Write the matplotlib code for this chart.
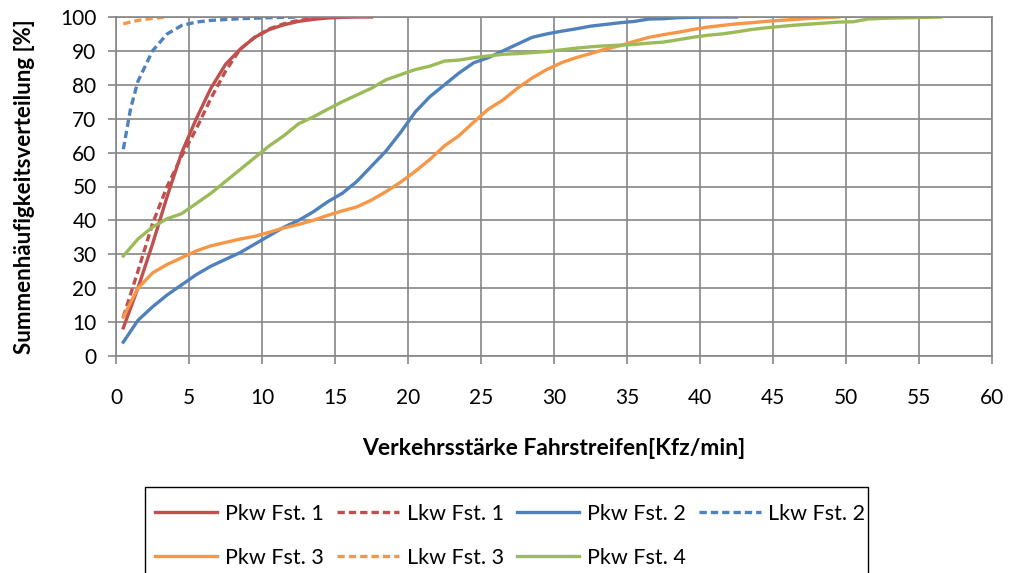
import matplotlib
matplotlib.use("Agg")
import matplotlib.pyplot as plt
from matplotlib.patches import Rectangle

plt.rcParams['font.family'] = ['Lato', 'DejaVu Sans']

# Pkw Fst. 1
x_pkw1 = [0.5, 1.5, 2.5, 3.5, 4.5, 5.5, 6.5, 7.5, 8.5, 9.5, 10.5, 11.5, 12.5, 13.5,
          14.5, 15.5, 16.5, 17.5]
y_pkw1 = [8.3, 20, 33, 47, 60, 70, 79, 86, 90.5, 94, 96.3, 97.7, 98.7, 99.3,
          99.7, 99.9, 100, 100]

# Lkw Fst. 1
x_lkw1 = [0.5, 1.5, 2.5, 3.5, 4.5, 5.5, 6.5, 7.5, 8.5, 9.5, 10.5, 11.5, 12.5, 13.5, 14.5]
y_lkw1 = [11.5, 25, 39, 50, 59, 67, 76, 84, 90.5, 94, 96.5, 98, 99, 99.5, 100]

# Pkw Fst. 2
x_pkw2 = [0.5, 1.5, 2.5, 3.5, 4.5, 5.5, 6.5, 7.5, 8.5, 9.5, 10.5, 11.5, 12.5, 13.5,
          14.5, 15.5, 16.5, 17.5, 18.5, 19.5, 20.5, 21.5, 22.5, 23.5, 24.5, 25.5,
          26.5, 27.5, 28.5, 29.5, 30.5, 31.5, 32.5, 33.5, 34.5, 35.5, 36.5, 37.5,
          38.5, 40.5, 42.5]
y_pkw2 = [4.1, 10.5, 14.5, 18, 21, 24, 26.5, 28.5, 30.5, 33, 35.5, 38, 40, 42.5,
          45.5, 48, 51.5, 56, 60.5, 66, 72, 76.5, 80, 83.5, 86.5, 88,
          90, 92, 94, 95, 95.8, 96.5, 97.3, 97.8, 98.3, 98.7, 99.4, 99.5,
          99.8, 100, 100]

# Lkw Fst. 2
x_lkw2 = [0.5, 1.0, 1.5, 2.5, 3.5, 4.5, 5.5, 6.5, 8.5, 10.5, 12.5]
y_lkw2 = [61, 73, 81, 90, 95, 97.5, 98.5, 99, 99.5, 99.8, 100]

# Pkw Fst. 3
x_pkw3 = [0.5, 1.5, 2.5, 3.5, 4.5, 5.5, 6.5, 7.5, 8.5, 9.5, 10.5, 11.5, 12.5, 13.5,
          14.5, 15.5, 16.5, 17.5, 18.5, 19.5, 20.5, 21.5, 22.5, 23.5, 24.5, 25.5,
          26.5, 27.5, 28.5, 29.5, 30.5, 31.5, 32.5, 33.5, 34.5, 35.5, 36.5, 37.5,
          38.5, 39.5, 40.5, 41.5, 42.5, 43.5, 44.5, 45.5, 46.5, 47.5, 48.5, 49.5]
y_pkw3 = [11.5, 20, 24.5, 27, 29, 31, 32.5, 33.5, 34.5, 35.3, 36.5, 37.8, 38.8, 40,
          41.5, 42.8, 44, 46, 48.5, 51.3, 54.5, 58, 62, 65, 69, 72.8,
          75.5, 79, 82, 84.5, 86.5, 88, 89.2, 90.5, 91.5, 92.8, 94, 94.8,
          95.5, 96.3, 97, 97.5, 98, 98.3, 98.7, 99, 99.3, 99.6, 99.8, 100]

# Lkw Fst. 3
x_lkw3 = [0.5, 1.5, 2.5, 3.5]
y_lkw3 = [98, 99, 99.6, 100]

# Pkw Fst. 4
x_pkw4 = [0.5, 1.5, 2.5, 3.5, 4.5, 5.5, 6.5, 7.5, 8.5, 9.5, 10.5, 11.5, 12.5, 13.5,
          14.5, 15.5, 16.5, 17.5, 18.5, 19.5, 20.5, 21.5, 22.5, 23.5, 24.5, 25.5,
          26.5, 27.5, 28.5, 29.5, 30.5, 31.5, 32.5, 33.5, 34.5, 35.5, 36.5, 37.5,
          38.5, 39.5, 40.5, 41.5, 42.5, 43.5, 44.5, 45.5, 46.5, 47.5, 48.5, 49.5,
          50.5, 51.5, 52.5, 53.5, 54.5, 55.5, 56.5]
y_pkw4 = [29.5, 34.5, 38, 40.5, 42, 45, 48, 51.5, 55, 58.5, 62, 65, 68.5, 70.5,
          72.8, 75, 77, 79, 81.5, 83, 84.5, 85.5, 87, 87.3, 88, 88.5,
          89, 89.2, 89.5, 89.8, 90.3, 90.8, 91.2, 91.5, 91.7, 91.9, 92.3, 92.6,
          93.3, 94, 94.6, 95, 95.6, 96.3, 96.8, 97.2, 97.6, 97.9, 98.2, 98.5,
          98.6, 99.4, 99.6, 99.7, 99.8, 99.9, 100]

red = '#C0504D'
blue = '#4F81BD'
orange = '#F79646'
green = '#9BBB59'

W, H = 1016, 573
fig = plt.figure(figsize=(W / 100, H / 100), dpi=100)
ax = fig.add_axes([116 / W, 1 - 356 / H, (992 - 116) / W, (356 - 17) / H])

lw = 2.4
dash = (0, (2.2, 1.2))
p1, = ax.plot(x_pkw1, y_pkw1, color=red, lw=lw, label='Pkw Fst. 1')
l1, = ax.plot(x_lkw1, y_lkw1, color=red, lw=lw, ls=dash, label='Lkw Fst. 1')
p2, = ax.plot(x_pkw2, y_pkw2, color=blue, lw=lw, label='Pkw Fst. 2')
l2, = ax.plot(x_lkw2, y_lkw2, color=blue, lw=lw, ls=dash, label='Lkw Fst. 2')
p3, = ax.plot(x_pkw3, y_pkw3, color=orange, lw=lw, label='Pkw Fst. 3')
l3, = ax.plot(x_lkw3, y_lkw3, color=orange, lw=lw, ls=dash, label='Lkw Fst. 3')
p4, = ax.plot(x_pkw4, y_pkw4, color=green, lw=lw, label='Pkw Fst. 4')

ax.set_xlim(0, 60)
ax.set_ylim(0, 100)
ax.set_xticks(range(0, 61, 5))
ax.set_yticks(range(0, 101, 10))
ax.grid(True, color='#868686', lw=1.2)
ax.set_axisbelow(True)
for s in ax.spines.values():
    s.set_color('#868686')
    s.set_linewidth(1.2)
ax.tick_params(axis='both', direction='out', length=6, width=1.2, color='#868686',
               labelsize=15)
ax.tick_params(axis='x', pad=17)
ax.tick_params(axis='y', pad=8)

ax.set_ylabel('Summenhäufigkeitsverteilung [%]', fontsize=16, fontweight='bold',
              labelpad=18)
ax.set_xlabel('Verkehrsstärke Fahrstreifen[Kfz/min]', fontsize=16.5, fontweight='bold',
              labelpad=22)

# legend fills column by column, so order items to read row by row
handles = [p1, p3, l1, l3, p2, p4, l2]
leg = fig.legend(handles, [h.get_label() for h in handles], loc='upper left', ncol=4,
                 bbox_to_anchor=(155 / W, 1 - 504 / H), fontsize=15.5,
                 frameon=False, borderpad=0, borderaxespad=0,
                 handlelength=2.9, handletextpad=0.35, columnspacing=0.6,
                 labelspacing=1.1)
# legend frame runs past the bottom edge of the figure, as in the source
fig.patches.append(Rectangle((145 / W, -0.05), (868 - 145) / W, 0.05 + (573 - 487) / H,
                             transform=fig.transFigure, fill=False,
                             edgecolor='black', lw=1.0))

fig.savefig('out.png', dpi=100)
